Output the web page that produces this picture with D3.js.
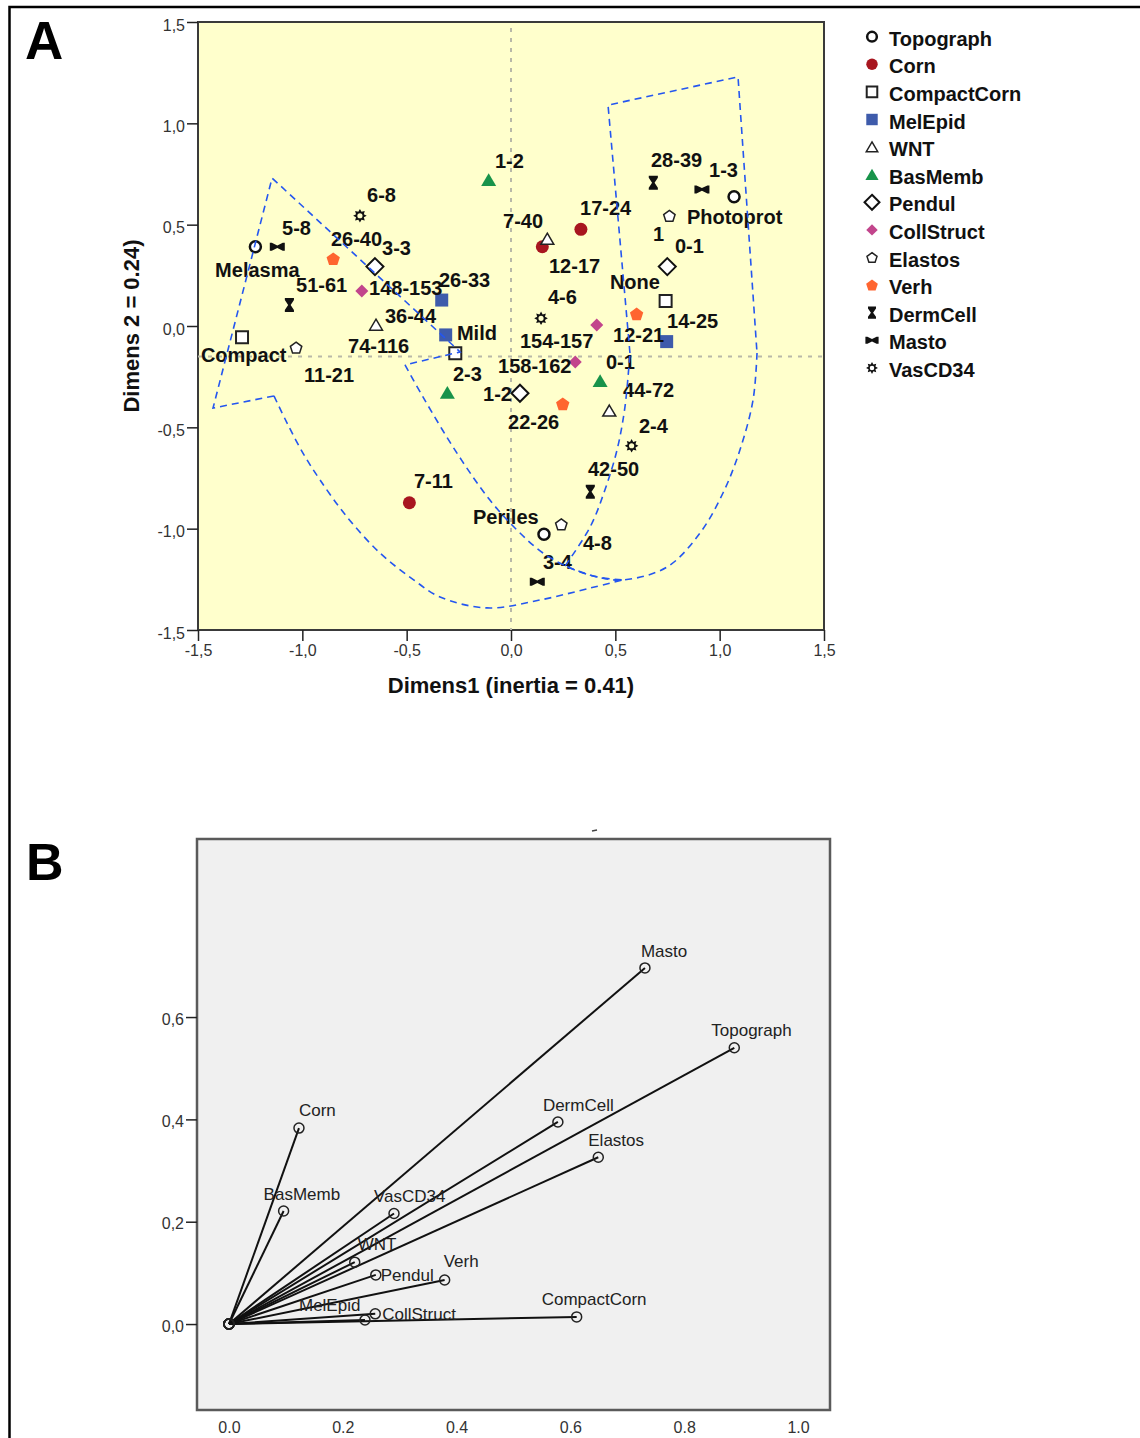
<!DOCTYPE html>
<html>
<head>
<meta charset="utf-8">
<script src="https://cdn.jsdelivr.net/npm/d3@7"></script>
<style>
body { margin: 0; background: #fff; }
text { font-family: "Liberation Sans", Arial, sans-serif; }
</style>
</head>
<body>
<svg id="chart" width="1140" height="1438"></svg>
<script>

// ---- panel A : correspondence map ----
categories = ["Topograph", "Corn", "CompactCorn", "MelEpid", "WNT", "BasMemb", "Pendul",
              "CollStruct", "Elastos", "Verh", "DermCell", "Masto", "VasCD34"]

// one entry per plotted category level
pointCat = ["Topograph","Topograph","Topograph", "Corn","Corn","Corn",
            "CompactCorn","CompactCorn","CompactCorn", "MelEpid","MelEpid","MelEpid",
            "WNT","WNT","WNT", "BasMemb","BasMemb","BasMemb", "Pendul","Pendul","Pendul",
            "CollStruct","CollStruct","CollStruct", "Elastos","Elastos","Elastos",
            "Verh","Verh","Verh", "DermCell","DermCell","DermCell", "Masto","Masto","Masto",
            "VasCD34","VasCD34","VasCD34"]
pointDim1 = [-1.225, 1.069, 0.158,   0.150, 0.335, -0.487,   -1.289, -0.267, 0.741,
             -0.332, -0.313, 0.746,  -0.647, 0.174, 0.471,   -0.107, -0.305, 0.427,
             -0.652, 0.043, 0.749,   -0.715, 0.308, 0.411,   -1.030, 0.759, 0.241,
             -0.852, 0.602, 0.248,   -1.062, 0.682, 0.380,   -1.120, 0.915, 0.126,
             -0.724, 0.144, 0.578]
pointDim2 = [0.391, 0.638, -1.028,   0.391, 0.477, -0.872,   -0.056, -0.135, 0.123,
             0.128, -0.044, -0.077,  0.005, 0.429, -0.419,   0.720, -0.329, -0.271,
             0.293, -0.332, 0.293,   0.173, -0.178, 0.005,   -0.107, 0.543, -0.979,
             0.331, 0.059, -0.385,   0.104, 0.707, -0.818,   0.391, 0.674, -1.262,
             0.544, 0.038, -0.591]

labelText = ["1-2","7-40","17-24","12-17","28-39","1-3","Photoprot","1","0-1","None","4-6",
             "26-33","148-153","36-44","Mild","154-157","12-21","14-25","158-162","0-1","2-3",
             "1-2","44-72","22-26","2-4","42-50","7-11","Periles","4-8","3-4","6-8","5-8",
             "26-40","3-3","Melasma","51-61","74-116","Compact","11-21"]
labelDim1 = [-0.077,-0.038,0.331,0.182,0.671,0.949,0.843,0.681,0.786,0.474,0.177,
             -0.345,-0.680,-0.604,-0.259,0.043,0.489,0.748,-0.062,0.455,-0.278,
             -0.134,0.537,-0.014,0.613,0.369,-0.465,-0.182,0.345,0.153,-0.690,-1.097,
             -0.863,-0.618,-1.418,-1.030,-0.781,-1.486,-0.992]
labelDim2 = [0.780,0.484,0.548,0.262,0.785,0.735,0.503,0.419,0.360,0.183,0.109,
             0.192,0.153,0.015,-0.069,-0.109,-0.079,-0.010,-0.232,-0.212,-0.271,
             -0.370,-0.350,-0.508,-0.528,-0.740,-0.799,-0.977,-1.105,-1.199,0.612,0.449,
             0.395,0.350,0.242,0.168,-0.133,-0.178,-0.276]

ticksA = [-1.5, -1.0, -0.5, 0, 0.5, 1.0, 1.5]

// hand drawn dashed groupings, in map units
groupStraight1 = [[-1.136,-0.345],[-1.428,-0.405],[-1.145,0.730],[-0.244,-0.128],[-0.508,-0.192]]
groupInner1 = [[-0.508,-0.192],[-0.422,-0.350],[-0.259,-0.627],[-0.101,-0.859],[0.029,-1.007],
               [0.153,-1.120],[0.283,-1.194],[0.412,-1.238],[0.537,-1.253]]
groupOuter1 = [[-1.136,-0.345],[-1.073,-0.479],[-0.997,-0.627],[-0.915,-0.760],[-0.786,-0.942],
               [-0.628,-1.120],[-0.470,-1.250],[-0.340,-1.337],[-0.115,-1.391],[0.139,-1.352],
               [0.379,-1.293],[0.537,-1.253]]
groupSide2 = [[0.259,-1.184],[0.379,-0.992],[0.450,-0.809],[0.508,-0.612],[0.546,-0.400],[0.570,-0.133]]
groupStraight2 = [[0.570,-0.133],[0.465,1.090],[1.088,1.229],[1.179,-0.133]]
groupCurve2 = [[1.179,-0.133],[1.160,-0.365],[1.097,-0.612],[1.016,-0.824],[0.906,-1.021],
               [0.748,-1.189],[0.537,-1.253],[0.412,-1.238],[0.259,-1.184]]

// ---- panel B : discrimination measures ----
vecNames = ["Masto","Topograph","DermCell","Elastos","Corn","BasMemb","VasCD34","WNT",
            "Pendul","Verh","CompactCorn","MelEpid","CollStruct"]
vecDim1 = [0.731, 0.888, 0.578, 0.649, 0.123, 0.096, 0.290, 0.221, 0.258, 0.379, 0.611, 0.239, 0.257]
vecDim2 = [0.696, 0.540, 0.395, 0.326, 0.383, 0.221, 0.216, 0.121, 0.096, 0.086, 0.014, 0.008, 0.020]

ticksBx = [0, 0.2, 0.4, 0.6, 0.8, 1.0]
ticksBy = [0, 0.2, 0.4, 0.6]


// label placement next to each vector end (pixels)
labelOffsetB = {
  Masto: [-4, -11], Topograph: [-23, -12], DermCell: [-15, -11], Elastos: [-10, -11],
  Corn: [0, -12], BasMemb: [-20, -11], VasCD34: [-20, -12], WNT: [3, -12],
  Pendul: [5, 6], Verh: [-1, -13], CompactCorn: [-35, -12], MelEpid: [-66, -9], CollStruct: [7, 6]
}

// marker look per category
markerStyle = {
  Topograph:   { shape: "circle",    s: 5.5, fill: "#fff",    stroke: "#111", sw: 2.5 },
  Corn:        { shape: "circle",    s: 6.5, fill: "#a8161f" },
  CompactCorn: { shape: "square",    s: 6,   fill: "#fff",    stroke: "#222", sw: 2 },
  MelEpid:     { shape: "square",    s: 6.5, fill: "#3e5bab" },
  WNT:         { shape: "triangle",  s: 6.5, fill: "#fff",    stroke: "#222", sw: 1.5 },
  BasMemb:     { shape: "triangle",  s: 7.5, fill: "#18934a" },
  Pendul:      { shape: "diamond",   s: 8.5, fill: "#fff",    stroke: "#111", sw: 2 },
  CollStruct:  { shape: "diamond",   s: 6.5, fill: "#c2458c" },
  Elastos:     { shape: "pentagon",  s: 6,   fill: "#fff",    stroke: "#222", sw: 1.5 },
  Verh:        { shape: "pentagon",  s: 7,   fill: "#ff6530" },
  DermCell:    { shape: "hourglass", s: 7,   fill: "#111" },
  Masto:       { shape: "bowtie",    s: 7.5, fill: "#111" },
  VasCD34:     { shape: "star",      s: 6.8, fill: "#111" }
}

shapePath = (shape, s) => {
  if (shape == "circle") return d3.symbol(d3.symbolCircle, Math.PI * s * s)()
  if (shape == "square") return `M${-s},${-s}H${s}V${s}H${-s}Z`
  if (shape == "triangle") return `M0,${-0.9 * s}L${s},${0.8 * s}L${-s},${0.8 * s}Z`
  if (shape == "diamond") return `M0,${-s}L${s},0L0,${s}L${-s},0Z`
  if (shape == "pentagon") {
    return "M" + d3.range(5).map(k => {
      const a = -Math.PI / 2 + k * 2 * Math.PI / 5
      return [s * Math.cos(a), s * Math.sin(a) + 0.5].join(",")
    }).join("L") + "Z"
  }
  if (shape == "hourglass") {
    const w = s * 0.65, n = s * 0.18
    return `M${-w},${-s}H${w}V${-s + 2}L${n},0L${w},${s - 2}V${s}H${-w}V${s - 2}L${-n},0L${-w},${-s + 2}Z`
  }
  if (shape == "bowtie") {
    const h = s * 0.53, n = s * 0.18
    return `M${-s},${-h}V${h}H${-s + 2}L0,${n}L${s - 2},${h}H${s}V${-h}H${s - 2}L0,${-n}L${-s + 2},${-h}Z`
  }
  if (shape == "star") {
    const pts = d3.range(16).map(k => {
      const a = -Math.PI / 2 + k * Math.PI / 8, r = k % 2 ? s * 0.62 : s
      return [r * Math.cos(a), r * Math.sin(a)].join(",")
    })
    const h = s * 0.38
    return "M" + pts.join("L") + `Z M${h},0A${h},${h} 0 1 0 ${-h},0A${h},${h} 0 1 0 ${h},0Z`
  }
}

drawMarker = (g, cat, k) => {
  const st = markerStyle[cat]
  g.append("path")
    .attr("d", shapePath(st.shape, st.s * k))
    .attr("fill", st.fill)
    .attr("fill-rule", "evenodd")
    .attr("stroke", st.stroke || "none")
    .attr("stroke-width", st.sw || 0)
}

fmtComma = v => d3.format(".1f")(v).replace(".", ",").replace("\u2212", "-")

svg = d3.select("#chart")

// outer frame
svg.append("rect")
  .attr("x", 9.5).attr("y", 7).attr("width", 1150).attr("height", 1450)
  .attr("fill", "none").attr("stroke", "#000").attr("stroke-width", 2.5)

// ================= panel A =================
xA = d3.scaleLinear().domain([-1.5, 1.5]).range([198, 824])
yA = d3.scaleLinear().domain([-1.5, 1.5]).range([630, 22])

svg.append("rect")
  .attr("x", xA(-1.5)).attr("y", yA(1.5))
  .attr("width", xA(1.5) - xA(-1.5)).attr("height", yA(-1.5) - yA(1.5))
  .attr("fill", "#ffffcc").attr("stroke", "#3a3a3a").attr("stroke-width", 2)

// reference lines
svg.append("line")
  .attr("x1", xA(0)).attr("x2", xA(0)).attr("y1", yA(1.47)).attr("y2", yA(-1.5))
  .attr("stroke", "#b8b8a8").attr("stroke-width", 2).attr("stroke-dasharray", "4,6")
svg.append("line")
  .attr("x1", xA(-1.5)).attr("x2", xA(1.5)).attr("y1", yA(-0.15)).attr("y2", yA(-0.15))
  .attr("stroke", "#b8b8a8").attr("stroke-width", 2).attr("stroke-dasharray", "4,6")

styleAxis = g => {
  g.select(".domain").remove()
  g.attr("font-family", null).attr("font-size", 16)
  g.selectAll(".tick line").attr("stroke", "#222").attr("stroke-width", 1.5)
  g.selectAll(".tick text").attr("fill", "#333")
}

svg.append("g")
  .attr("transform", `translate(${xA(-1.5)},0)`)
  .call(d3.axisLeft(yA).tickValues(ticksA).tickSize(11).tickPadding(2).tickFormat(fmtComma))
  .call(styleAxis)
  .call(g => g.selectAll(".tick text").attr("dy", "0.5em"))

svg.append("g")
  .attr("transform", `translate(0,${yA(-1.5)})`)
  .call(d3.axisBottom(xA).tickValues(ticksA).tickSize(11).tickPadding(4).tickFormat(fmtComma))
  .call(styleAxis)

svg.append("text")
  .attr("x", xA(0)).attr("y", 693)
  .attr("text-anchor", "middle").attr("font-size", 22).attr("font-weight", "bold").attr("fill", "#111")
  .text("Dimens1 (inertia = 0.41)")

svg.append("text")
  .attr("transform", `translate(139,${yA(0)}) rotate(-90)`)
  .attr("text-anchor", "middle").attr("font-size", 22).attr("font-weight", "bold").attr("fill", "#111")
  .text("Dimens 2 = 0.24)")

// points
pointCat.forEach((cat, i) => {
  const g = svg.append("g").attr("transform", `translate(${xA(pointDim1[i])},${yA(pointDim2[i])})`)
  drawMarker(g, cat, 1)
})

// level labels
svg.append("g")
  .selectAll("text")
  .data(labelText)
  .join("text")
    .attr("x", (d, i) => xA(labelDim1[i]))
    .attr("y", (d, i) => yA(labelDim2[i]))
    .attr("font-size", 20).attr("font-weight", "bold").attr("fill", "#111")
    .text(d => d)

// dashed groupings on top
lineStraight = d3.line().x(d => xA(d[0])).y(d => yA(d[1]))
lineSmooth = d3.line().x(d => xA(d[0])).y(d => yA(d[1])).curve(d3.curveCatmullRom.alpha(0.5))
;[[groupStraight1, lineStraight], [groupInner1, lineSmooth], [groupOuter1, lineSmooth],
  [groupSide2, lineSmooth], [groupStraight2, lineStraight], [groupCurve2, lineSmooth]]
  .forEach(([pts, gen]) => {
    svg.append("path")
      .attr("d", gen(pts))
      .attr("fill", "none").attr("stroke", "#2456f0").attr("stroke-width", 1.6)
      .attr("stroke-dasharray", "7,5")
  })

// legend
categories.forEach((cat, i) => {
  const y = 36.7 + i * 27.6
  const g = svg.append("g").attr("transform", `translate(872,${y})`)
  drawMarker(g, cat, 0.88)
  svg.append("text")
    .attr("x", 889).attr("y", y + 9)
    .attr("font-size", 20).attr("font-weight", "bold").attr("fill", "#111")
    .text(cat)
})

svg.append("text")
  .attr("x", 25).attr("y", 59)
  .attr("font-size", 53).attr("font-weight", "bold").attr("fill", "#000")
  .text("A")

// ================= panel B =================
xB = d3.scaleLinear().domain([-0.0562, 1.0562]).range([197, 830])
yB = d3.scaleLinear().domain([-0.168, 0.948]).range([1410, 839])

svg.append("rect")
  .attr("x", xB.range()[0]).attr("y", yB.range()[1])
  .attr("width", xB.range()[1] - xB.range()[0]).attr("height", yB.range()[0] - yB.range()[1])
  .attr("fill", "#f0f0f0").attr("stroke", "#5a5a5a").attr("stroke-width", 2.5)

// stray mark above the plot
svg.append("line")
  .attr("x1", 592).attr("x2", 597).attr("y1", 831).attr("y2", 830)
  .attr("stroke", "#444").attr("stroke-width", 1.5)

svg.append("g")
  .attr("transform", `translate(${xB.range()[0]},0)`)
  .call(d3.axisLeft(yB).tickValues(ticksBy).tickSize(11).tickPadding(2).tickFormat(fmtComma))
  .call(styleAxis)
  .call(g => g.selectAll(".tick text").attr("dy", "0.45em"))

svg.append("g")
  .attr("transform", `translate(0,${yB.range()[0]})`)
  .call(d3.axisBottom(xB).tickValues(ticksBx).tickSize(0).tickPadding(12).tickFormat(d3.format(".1f")))
  .call(styleAxis)

vecNames.forEach((name, i) => {
  svg.append("line")
    .attr("x1", xB(0)).attr("y1", yB(0))
    .attr("x2", xB(vecDim1[i])).attr("y2", yB(vecDim2[i]))
    .attr("stroke", "#111").attr("stroke-width", 2)
})
vecNames.forEach((name, i) => {
  ;[[0, 0], [vecDim1[i], vecDim2[i]]].forEach(p => {
    svg.append("circle")
      .attr("cx", xB(p[0])).attr("cy", yB(p[1])).attr("r", 5)
      .attr("fill", "none").attr("stroke", "#222").attr("stroke-width", 1.5)
  })
})
vecNames.forEach((name, i) => {
  const off = labelOffsetB[name]
  svg.append("text")
    .attr("x", xB(vecDim1[i]) + off[0]).attr("y", yB(vecDim2[i]) + off[1])
    .attr("font-size", 17).attr("fill", "#222")
    .text(name)
})

svg.append("text")
  .attr("x", 26).attr("y", 880)
  .attr("font-size", 52).attr("font-weight", "bold").attr("fill", "#000")
  .text("B")

</script>
</body>
</html>
